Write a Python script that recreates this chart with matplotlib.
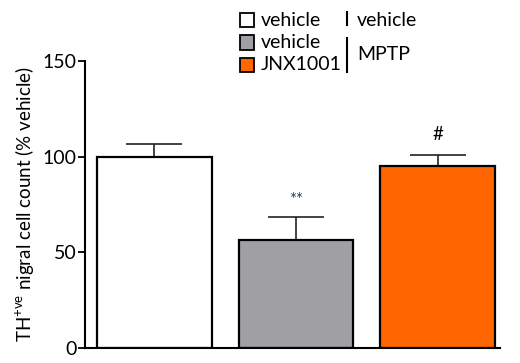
import numpy as np
import matplotlib
matplotlib.use('Agg')
import matplotlib.pyplot as plt
from matplotlib.patches import Rectangle
from matplotlib.lines import Line2D

plt.rcParams['font.family'] = ['Lato', 'DejaVu Sans']
plt.rcParams['mathtext.fontset'] = 'custom'
plt.rcParams['mathtext.rm'] = 'Lato'

# data
groups = ['vehicle / vehicle', 'vehicle / MPTP', 'JNX1001 / MPTP']
means = [100, 56.5, 95.3]
sems = [6.5, 12, 5.7]
colors = ['#ffffff', '#a09fa4', '#ff6600']
marks = ['', '**', '#']
mark_colors = ['black', '#2b3f6b', 'black']
yticks = [0, 50, 100, 150]

W, H = 520, 363
fig = plt.figure(figsize=(W / 100, H / 100), dpi=100)
# axes placed in pixel terms
left, right, top, bottom = 85, 500, 61, 348
ax = fig.add_axes([left / W, 1 - bottom / H, (right - left) / W, (bottom - top) / H])

x = np.arange(len(means))
ax.bar(x, means, width=0.81, color=colors, edgecolor='black', linewidth=1.6, zorder=2)
ax.errorbar(x, means, yerr=[np.zeros(3), sems], fmt='none', ecolor='#222222',
            elinewidth=1.2, capsize=20.5, capthick=1.2, zorder=1)

for xi, m, s, t, c in zip(x, means, sems, marks, mark_colors):
    if t == '**':
        ax.text(xi, m + s + 4.5, t, ha='center', va='bottom', fontsize=12, color=c)
    elif t:
        ax.text(xi, m + s + 6, t, ha='center', va='bottom', fontsize=13.5, color=c)

ax.set_xlim(-0.49, 2.44)
ax.set_ylim(0, 150)
ax.set_yticks(yticks)
ax.set_xticks([])
ax.tick_params(axis='y', direction='out', length=5, width=1.3, labelsize=14, pad=1)
for sp in ['top', 'right']:
    ax.spines[sp].set_visible(False)
for sp in ['left', 'bottom']:
    ax.spines[sp].set_linewidth(1.5)
ax.set_ylabel(r'TH$^{\mathrm{+ve}}$ nigral cell count (% vehicle)', fontsize=13.5, labelpad=4)


def px(xp, yp):
    return xp / W, 1 - yp / H


# legend drawn by hand
rows = [20, 42.5, 64.5]
labels = ['vehicle', 'vehicle', 'JNX1001']
for yc, lab, col in zip(rows, labels, colors):
    x0, y0 = px(240, yc + 7)
    fig.patches.append(Rectangle((x0, y0), 14 / W, 14 / H, transform=fig.transFigure,
                                 facecolor=col, edgecolor='black', linewidth=1.3))
    tx, ty = px(261, yc)
    fig.text(tx, ty, lab, ha='left', va='center', fontsize=14)

for y1, y2 in [(12, 25), (38, 72)]:
    a = px(347, y1)
    b = px(347, y2)
    fig.lines.append(Line2D([a[0], b[0]], [a[1], b[1]], transform=fig.transFigure,
                            color='black', linewidth=1.5))
tx, ty = px(357, 20)
fig.text(tx, ty, 'vehicle', ha='left', va='center', fontsize=14)
tx, ty = px(357, 54)
fig.text(tx, ty, 'MPTP', ha='left', va='center', fontsize=14)

fig.savefig('out.png', dpi=100)
